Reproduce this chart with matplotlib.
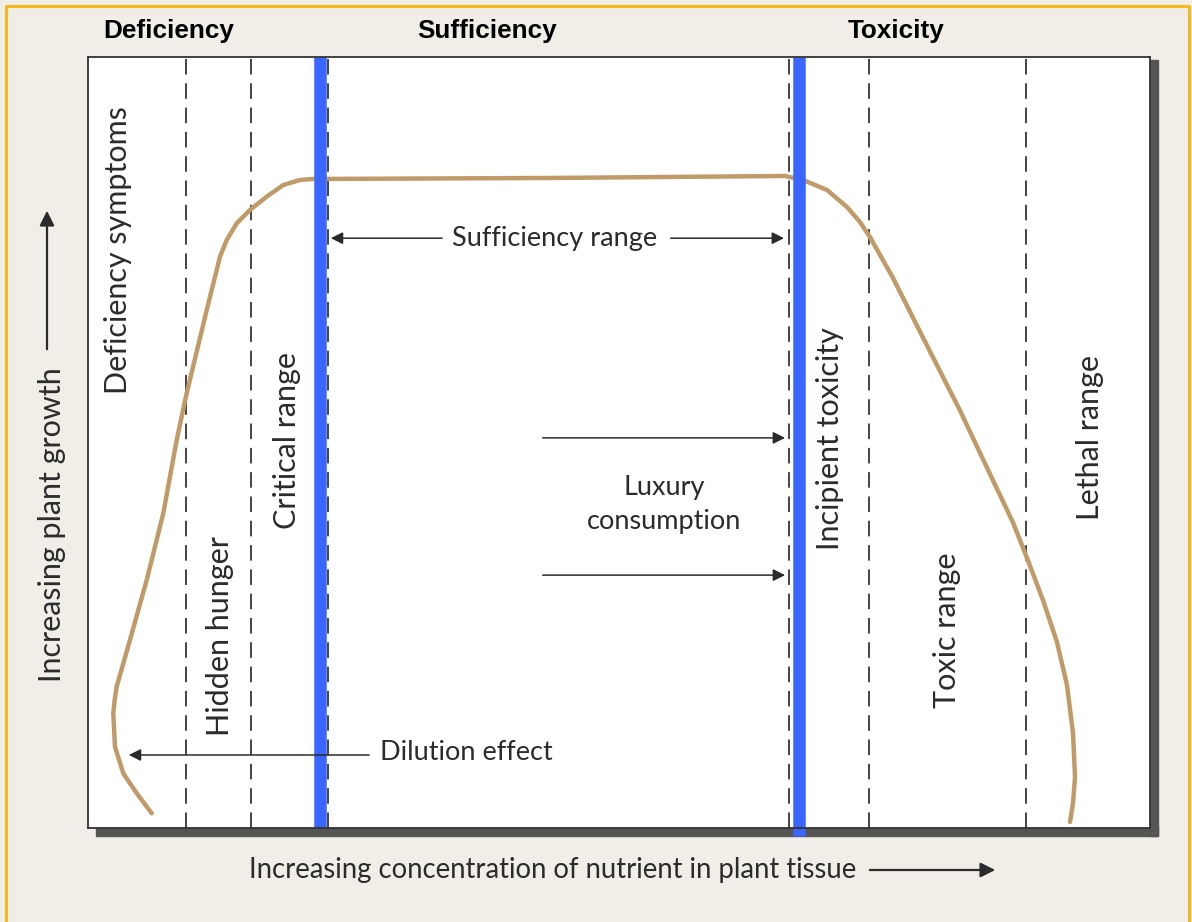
import matplotlib
matplotlib.use("Agg")
import matplotlib.pyplot as plt
from matplotlib.patches import Rectangle

W, H = 1192, 922

# growth curve (concentration, growth), both 0-100
conc = [6.0, 4.59, 3.32, 2.54, 2.38, 2.51, 2.70, 3.95, 5.53, 7.09, 8.35,
        9.29, 11.18, 12.43, 13.06, 14.00, 15.25, 16.82, 18.39, 19.96,
        21.19, 43.5, 65.63, 67.33, 69.59, 71.47, 72.69, 73.63, 75.80,
        79.00, 82.11, 85.22, 87.10, 88.51, 89.92, 91.24, 92.18, 92.75,
        92.94, 92.75, 92.47]
growth = [1.91, 4.50, 7.09, 10.55, 14.87, 16.60, 18.33, 24.38, 32.17,
          40.82, 50.32, 56.38, 67.19, 74.10, 76.26, 78.43, 80.16, 81.88,
          83.40, 84.05, 84.18, 84.31, 84.57, 84.05, 82.75, 80.54, 78.60,
          76.65, 71.34, 62.58, 54.15, 45.07, 39.62, 34.70, 29.57, 24.12,
          18.55, 12.32, 6.61, 3.24, 0.78]

# range boundaries
dashed_x = [9.23, 15.35, 22.6, 66.0, 73.54, 88.32]
blue_x = [21.85, 66.95]

zone_labels = ["Deficiency symptoms", "Hidden hunger", "Critical range",
               "Incipient toxicity", "Toxic range", "Lethal range"]
zone_x = [2.82, 12.43, 18.74, 69.87, 80.9, 94.35]
zone_y = [75.0, 24.9, 50.2, 50.45, 25.7, 50.7]

headers = ["Deficiency", "Sufficiency", "Toxicity"]
header_px = [169, 487, 896]

ink = "#2b2b2b"
curve_col = "#c09a68"
blue = "#3a66ff"
bg = "#f1eee8"

plt.rcParams["font.family"] = ["Lato", "DejaVu Sans"]

fig = plt.figure(figsize=(W / 100, H / 100), dpi=100)
fig.patch.set_facecolor(bg)

# full-figure overlay in pixel units for frame, shadow and outer labels
over = fig.add_axes([0, 0, 1, 1])
over.set_xlim(0, W)
over.set_ylim(H, 0)
over.axis("off")
over.add_patch(Rectangle((96, 826), 1062, 10, color="#555555", zorder=1))
over.add_patch(Rectangle((1150, 60), 8, 776, color="#555555", zorder=1))
over.plot([6, 6, 1189, 1189], [H, 6, 6, H], color="#f6b81a", lw=2.2)

for lab, px in zip(headers, header_px):
    over.text(px, 31, lab, ha="center", va="center", fontsize=18.8,
              fontweight="bold", color="black",
              family=["Liberation Sans Narrow", "Liberation Sans"])

over.text(52, 525, "Increasing plant growth", rotation=90, ha="center",
          va="center", fontsize=22, color=ink)
over.annotate("", xy=(47, 208), xytext=(47, 352),
              arrowprops=dict(arrowstyle="-|>", color=ink, lw=1.6,
                              mutation_scale=22))
over.text(553, 870, "Increasing concentration of nutrient in plant tissue",
          ha="center", va="center", fontsize=19.8, color=ink)
over.annotate("", xy=(998, 870), xytext=(867, 870),
              arrowprops=dict(arrowstyle="-|>", color=ink, lw=1.6,
                              mutation_scale=22))

ax = fig.add_axes([88 / W, 1 - 828 / H, (1150 - 88) / W, (828 - 57) / H])
ax.set_facecolor("white")
ax.set_zorder(2)
ax.set_xlim(0, 100)
ax.set_ylim(0, 100)
ax.set_xticks([])
ax.set_yticks([])
for s in ax.spines.values():
    s.set_color("#333333")
    s.set_linewidth(1.3)

for x in dashed_x:
    ax.axvline(x, color="#444444", lw=1.4, dashes=(8, 4.5))

ax.plot(conc, growth, color=curve_col, lw=3.2, solid_capstyle="round",
        solid_joinstyle="round")

ax.plot([blue_x[0]] * 2, [0, 100], color=blue, lw=9, solid_capstyle="butt")
ax.plot([blue_x[1]] * 2, [-1.04, 100], color=blue, lw=9,
        solid_capstyle="butt", clip_on=False)

for lab, x, y in zip(zone_labels, zone_x, zone_y):
    ax.text(x, y, lab, rotation=90, ha="center", va="center", fontsize=22,
            color=ink)

arrow = dict(arrowstyle="-|>", color=ink, lw=1.1, mutation_scale=18)
# sufficiency range
ax.annotate("", xy=(22.6, 76.5), xytext=(33.6, 76.5), arrowprops=arrow)
ax.annotate("", xy=(65.8, 76.5), xytext=(54.6, 76.5), arrowprops=arrow)
ax.text(43.97, 76.5, "Sufficiency range", ha="center", va="center",
        fontsize=19.5, color=ink)
# luxury consumption
for y in [50.6, 32.8]:
    ax.annotate("", xy=(65.9, y), xytext=(42.56, y), arrowprops=arrow)
ax.text(54.24, 44.1, "Luxury", ha="center", va="center", fontsize=19.5,
        color=ink)
ax.text(54.24, 39.7, "consumption", ha="center", va="center",
        fontsize=19.5, color=ink)
# dilution effect
ax.annotate("", xy=(3.58, 9.47), xytext=(26.74, 9.47), arrowprops=arrow)
ax.text(27.5, 9.8, "Dilution effect", ha="left", va="center",
        fontsize=19.5, color=ink)

fig.savefig("out.png", dpi=100, facecolor=bg)
